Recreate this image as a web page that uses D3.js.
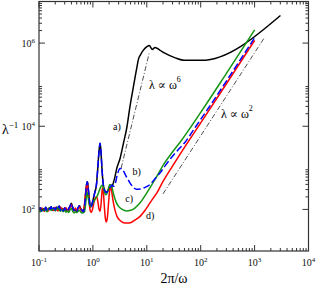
<!DOCTYPE html>
<html><head><meta charset="utf-8">
<script src="https://cdn.jsdelivr.net/npm/d3@7"></script>
<style>html,body{margin:0;padding:0;background:#fff;}svg{display:block;font-family:"Liberation Serif","DejaVu Serif",serif;}</style>
</head><body><svg id="c" width="316" height="286"></svg>
<script>
// ---- data (x = 2π/ω, y = λ^-1) ----
const blueData = [[0.100,98],[0.106,110],[0.112,92],[0.119,104],[0.126,96],[0.133,112],[0.141,94],[0.150,106],[0.158,100],[0.168,116],[0.178,95],[0.188,108],[0.200,97],[0.211,113],[0.224,102],[0.237,120],[0.251,96],[0.266,106],[0.282,92],[0.299,108],[0.316,98],[0.335,90],[0.355,104],[0.376,118],[0.398,140],[0.422,112],[0.447,94],[0.473,102],[0.501,90],[0.531,110],[0.562,122],[0.596,104],[0.631,95],[0.668,88],
 [0.70,120],[0.73,220],[0.76,380],[0.79,460],[0.82,320],[0.86,170],[0.90,114],[0.95,125],[1.0,165],[1.08,250],[1.16,380],[1.24,1100],[1.30,2600],[1.36,3900],[1.41,2500],[1.47,1000],[1.55,420],[1.65,290],[1.78,255],[1.92,280],[2.08,340],[2.25,385],[2.4,360],[2.6,420],[2.85,700],[3.2,970],[3.6,880],[4.1,640],[4.7,470],[5.4,360],[6.4,305],[7.6,310],[9.3,338],[11.5,400],[14.3,556],[18,780],[22,1130],[30,1900],[40,2900],[50,3970],[80,9600],[150,31500],[300,122000],[600,484000],[1000,1340000]];
const redData = [[0.100,104],[0.106,94],[0.112,108],[0.119,98],[0.126,90],[0.133,106],[0.141,100],[0.150,92],[0.158,110],[0.168,98],[0.178,104],[0.188,94],[0.200,112],[0.211,100],[0.224,92],[0.237,106],[0.251,114],[0.266,98],[0.282,104],[0.299,94],[0.316,110],[0.335,96],[0.355,92],[0.376,112],[0.398,132],[0.422,104],[0.447,92],[0.473,108],[0.501,96],[0.531,104],[0.562,115],[0.596,98],[0.631,90],[0.668,95],
 [0.70,140],[0.73,240],[0.76,370],[0.79,420],[0.82,260],[0.86,130],[0.90,90],[0.94,86],[0.99,105],[1.05,150],[1.12,195],[1.18,200],[1.24,150],[1.30,100],[1.36,90],[1.42,140],[1.48,280],[1.52,330],[1.57,250],[1.63,120],[1.70,62],[1.78,50],[1.86,65],[1.95,140],[2.05,290],[2.12,350],[2.2,300],[2.35,170],[2.55,100],[2.8,68],[3.2,54],[3.7,48],[4.3,47],[5.0,48],[6.0,55],[7.5,68],[9.0,90],[10.5,120],[12.5,170],[15.4,250],[20,470],[30,1100],[50,3100],[100,12000],[300,105000],[1000,1160000]];
const greenData = [[0.100,96],[0.106,88],[0.112,100],[0.119,92],[0.126,104],[0.133,95],[0.141,88],[0.150,102],[0.158,110],[0.168,94],[0.178,100],[0.188,108],[0.200,92],[0.211,104],[0.224,115],[0.237,98],[0.251,90],[0.266,100],[0.282,88],[0.299,96],[0.316,86],[0.335,92],[0.355,84],[0.376,96],[0.398,105],[0.422,90],[0.447,82],[0.473,88],[0.501,84],[0.531,90],[0.562,96],[0.596,86],[0.631,82],[0.668,84],
 [0.70,88],[0.73,130],[0.76,210],[0.79,250],[0.82,185],[0.86,130],[0.90,118],[0.95,122],[1.0,140],[1.08,170],[1.16,195],[1.24,230],[1.32,290],[1.40,350],[1.48,380],[1.56,340],[1.64,260],[1.74,225],[1.84,250],[1.95,330],[2.05,395],[2.15,400],[2.28,320],[2.45,220],[2.7,150],[3.0,118],[3.5,100],[4.2,92],[5.0,95],[6.0,108],[7.5,145],[10,250],[12.5,400],[15.4,630],[20,1150],[30,2400],[40.5,3970],[100,21500],[300,187000],[1000,2070000]];
const blackData = [[0.100,98],[0.106,110],[0.112,92],[0.119,104],[0.126,96],[0.133,112],[0.141,94],[0.150,106],[0.158,100],[0.168,116],[0.178,95],[0.188,108],[0.200,97],[0.211,113],[0.224,102],[0.237,120],[0.251,96],[0.266,106],[0.282,92],[0.299,108],[0.316,98],[0.335,90],[0.355,104],[0.376,118],[0.398,140],[0.422,112],[0.447,94],[0.473,102],[0.501,90],[0.531,110],[0.562,122],[0.596,104],[0.631,95],[0.668,88],
 [0.70,120],[0.73,220],[0.76,380],[0.79,460],[0.82,320],[0.86,170],[0.90,114],[0.95,125],[1.0,165],[1.08,250],[1.16,380],[1.24,1100],[1.30,2600],[1.36,3900],[1.41,2500],[1.47,1000],[1.55,420],[1.65,290],[1.78,260],[1.92,291],[2.28,363],[2.53,565],[2.78,982],[3.2,1706],[3.69,3908],[4.27,9460],[4.91,31900],[5.66,91200],[6.55,261000],[7.07,429000],[7.54,506000],[8.57,667000],[10.2,832000],[11.1,879000],[12.6,705000],[14.3,787000],[17.7,667000],[22,565000],[33.7,441000],[49.6,384000],[102.6,384000],[3018,4610000]];
const slope6 = [[3.34,982],[11.2,607000]];
const slope2 = [[20,237],[1540,1390000]];
const xTickExp = [-1,0,1,2,3,4];
const yTickExp = [2,4,6];
const curveLabels = [["a)",2.8,8200],["b)",6.5,667],["c)",4.7,150],["d)",11.6,59]];

// ---- layout ----
const L=39, R=308.5, T=1.5, B=251;
const svg=d3.select("#c");
const x=d3.scaleLog().domain([0.1,1e4]).range([L,R]);
const y=d3.scaleLog().domain([10,1e7]).range([B,T]);
const line=d3.line().x(d=>x(d[0])).y(d=>y(d[1])).curve(d3.curveMonotoneX);

svg.append("clipPath").attr("id","cp").append("rect").attr("x",L).attr("y",T).attr("width",R-L).attr("height",B-T);
const g=svg.append("g").attr("clip-path","url(#cp)");

// reference slope lines
g.append("path").attr("d",d3.line().x(d=>x(d[0])).y(d=>y(d[1]))(slope6)).attr("fill","none").attr("stroke","#222").attr("stroke-width",0.8).attr("stroke-dasharray","5,2,1,2");
g.append("path").attr("d",d3.line().x(d=>x(d[0])).y(d=>y(d[1]))(slope2)).attr("fill","none").attr("stroke","#222").attr("stroke-width",0.8).attr("stroke-dasharray","5,2,1,2");

const series=[[blackData,"#000",null],[redData,"#ff0000",null],[greenData,"#149614",null],[blueData,"#0000ff","7,3"]];
series.forEach(([d,c,da])=>{
  const p=g.append("path").attr("d",line(d)).attr("fill","none").attr("stroke",c).attr("stroke-width",1.5).attr("stroke-linejoin","round");
  if(da) p.attr("stroke-dasharray",da);
});

// frame
svg.append("rect").attr("x",L).attr("y",T).attr("width",R-L).attr("height",B-T).attr("fill","none").attr("stroke","#333").attr("stroke-width",1.2);

// ticks
const tk=svg.append("g").attr("stroke","#333").attr("stroke-width",1);
const xMaj=xTickExp.map(e=>Math.pow(10,e));
const xMin=[];
xTickExp.slice(0,-1).forEach(e=>{for(let m=2;m<=9;m++)xMin.push(m*Math.pow(10,e));});
xMaj.forEach(v=>{const X=x(v);tk.append("line").attr("x1",X).attr("x2",X).attr("y1",B).attr("y2",B-6);tk.append("line").attr("x1",X).attr("x2",X).attr("y1",T).attr("y2",T+6);});
xMin.forEach(v=>{const X=x(v);tk.append("line").attr("x1",X).attr("x2",X).attr("y1",B).attr("y2",B-3);tk.append("line").attr("x1",X).attr("x2",X).attr("y1",T).attr("y2",T+3);});
const yMaj=yTickExp.map(e=>Math.pow(10,e));
const yMin=[];
yTickExp.forEach(e=>{for(let m=2;m<=9;m++)yMin.push(m*Math.pow(10,e));});
yMaj.forEach(v=>{const Y=y(v);tk.append("line").attr("x1",L).attr("x2",L+6).attr("y1",Y).attr("y2",Y);tk.append("line").attr("x1",R).attr("x2",R-6).attr("y1",Y).attr("y2",Y);});
yMin.forEach(v=>{const Y=y(v);tk.append("line").attr("x1",L).attr("x2",L+3).attr("y1",Y).attr("y2",Y);tk.append("line").attr("x1",R).attr("x2",R-3).attr("y1",Y).attr("y2",Y);});

// tick labels
function pow10(sel,e){sel.append("tspan").text("10");sel.append("tspan").attr("font-size",7).attr("dy",-4).text(e<0?"-"+(-e):String(e));}
xTickExp.forEach(e=>{const t=svg.append("text").attr("x",x(Math.pow(10,e))).attr("y",266).attr("text-anchor","middle").attr("font-size",10).attr("fill","#111");pow10(t,e);});
yTickExp.forEach(e=>{const t=svg.append("text").attr("x",35).attr("y",y(Math.pow(10,e))+4).attr("text-anchor","end").attr("font-size",10).attr("fill","#111");pow10(t,e);});

// axis titles
const yl=svg.append("text").attr("x",2).attr("y",134).attr("font-size",14).attr("fill","#000");
yl.append("tspan").text("λ");yl.append("tspan").attr("font-size",9).attr("dy",-6).text("−1");
svg.append("text").attr("x",174).attr("y",283).attr("text-anchor","middle").attr("font-size",14).attr("fill","#000").text("2π/ω");

// curve labels
curveLabels.forEach(([s,vx,vy])=>{svg.append("text").attr("x",x(vx)).attr("y",y(vy)).attr("text-anchor","middle").attr("font-size",10).attr("fill","#000").text(s);});
const l6=svg.append("text").attr("x",149).attr("y",89).attr("font-size",12).attr("fill","#000");
l6.append("tspan").text("λ ∝ ω");l6.append("tspan").attr("font-size",8).attr("dy",-7).text("6");
const l2=svg.append("text").attr("x",221).attr("y",118).attr("font-size",12).attr("fill","#000");
l2.append("tspan").text("λ ∝ ω");l2.append("tspan").attr("font-size",8).attr("dy",-7).text("2");
</script></body></html>
